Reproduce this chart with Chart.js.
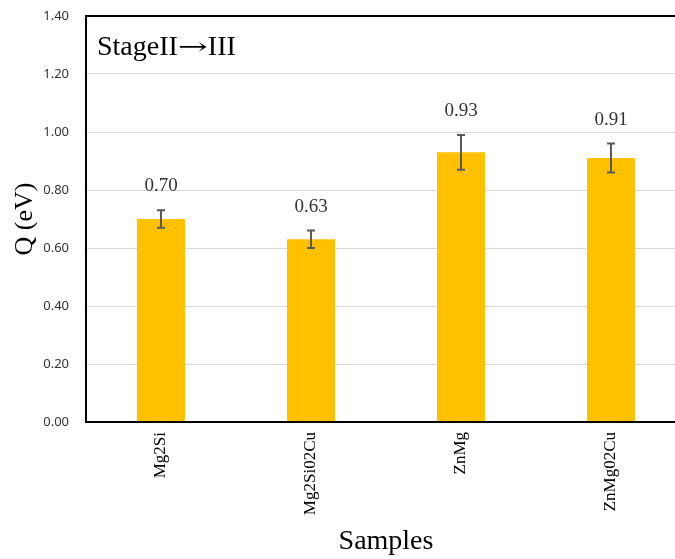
<!DOCTYPE html>
<html lang="en">
<head>
<meta charset="UTF-8">
<title>Q stage II to III</title>
<script src="https://cdn.jsdelivr.net/npm/chart.js"></script>
<style>
  html, body { margin: 0; padding: 0; background: #fff; overflow: hidden; }
  #wrap { width: 686px; height: 559px; }
</style>
</head>
<body>
<div id="wrap">
  <canvas id="myChart" width="686" height="559"></canvas>
</div>
<script>
// data
const categories = ['Mg2Si', 'Mg2Si02Cu', 'ZnMg', 'ZnMg02Cu'];
const qValues = [0.70, 0.63, 0.93, 0.91];
const qErrors = [0.03, 0.03, 0.06, 0.05];
const yMin = 0, yMax = 1.4, yStep = 0.2;
const stageParts = ['StageII', '\u2192', 'III'];

// error bars + value labels + box text
const extras = {
    id: 'extras',
    afterDatasetsDraw(chart) {
        const ctx = chart.ctx;
        const xs = chart.scales.x, ys = chart.scales.y;
        ctx.save();
        ctx.strokeStyle = '#595959';
        ctx.lineWidth = 2;
        for (let i = 0; i < qValues.length; i++) {
            const x = xs.getPixelForValue(i);
            const yt = ys.getPixelForValue(qValues[i] + qErrors[i]);
            const yb = ys.getPixelForValue(qValues[i] - qErrors[i]);
            ctx.beginPath();
            ctx.moveTo(x, yt); ctx.lineTo(x, yb);
            ctx.moveTo(x - 4, yt); ctx.lineTo(x + 4, yt);
            ctx.moveTo(x - 4, yb); ctx.lineTo(x + 4, yb);
            ctx.stroke();
            ctx.fillStyle = '#333';
            ctx.font = '19px "Liberation Serif"';
            ctx.textAlign = 'center';
            ctx.textBaseline = 'middle';
            ctx.fillText(qValues[i].toFixed(2), x, yt - 24);
        }
        // frame
        const a = chart.chartArea;
        ctx.strokeStyle = '#000';
        ctx.lineWidth = 2;
        ctx.strokeRect(a.left, a.top, a.right - a.left, a.bottom - a.top);
        // "StageII→III"; the arrow is stretched a bit to match the long one in the source
        ctx.fillStyle = '#000';
        ctx.textAlign = 'left';
        ctx.textBaseline = 'alphabetic';
        let tx = a.left + 11;
        const ty = a.top + 39;
        ctx.font = '28px "Liberation Serif"';
        ctx.fillText(stageParts[0], tx, ty);
        tx += ctx.measureText(stageParts[0]).width;
        ctx.font = '28px "DejaVu Serif"';
        const aw = ctx.measureText(stageParts[1]).width;
        ctx.save();
        ctx.translate(tx, ty - 1);
        ctx.scale(30 / aw, 0.8);
        ctx.fillText(stageParts[1], 0, 0);
        ctx.restore();
        tx += 30;
        ctx.font = '28px "Liberation Serif"';
        ctx.fillText(stageParts[2], tx, ty);
        ctx.restore();
    }
};

const ctx = document.getElementById('myChart').getContext('2d');
const myChart = new Chart(ctx, {
    type: 'bar',
    data: {
        labels: categories,
        datasets: [{
            data: qValues,
            backgroundColor: '#FFC000',
            borderWidth: 0,
            barPercentage: 0.32,
            categoryPercentage: 1
        }]
    },
    options: {
        responsive: false,
        animation: false,
        devicePixelRatio: 1,
        layout: { padding: { top: 16, left: 0, right: 0, bottom: 0 } },
        plugins: { legend: { display: false }, tooltip: { enabled: false } },
        scales: {
            x: {
                grid: { display: false, drawTicks: false },
                border: { color: '#000', width: 2 },
                ticks: {
                    minRotation: 90, maxRotation: 90, padding: 10,
                    color: '#000',
                    font: { family: 'Liberation Serif', size: 17 }
                },
                title: {
                    display: true, text: 'Samples', color: '#000',
                    font: { family: 'Liberation Serif', size: 28 },
                    padding: { top: 0, bottom: 1 }
                },
                afterFit(scale) { scale.height = 137; scale.paddingTop = 0; }
            },
            y: {
                min: yMin, max: yMax,
                grid: { color: '#d9d9d9', lineWidth: 1, drawTicks: false },
                border: { color: '#000', width: 2 },
                ticks: {
                    stepSize: yStep, padding: 17, color: '#333',
                    font: { family: 'Noto Sans', size: 13 },
                    callback: v => v.toFixed(2)
                },
                title: {
                    display: true, text: 'Q (eV)', color: '#000',
                    font: { family: 'Liberation Serif', size: 26 },
                    padding: { top: 10, bottom: 0 }
                },
                afterFit(scale) { scale.width = 86; scale.paddingTop = 0; scale.paddingBottom = 0; }
            }
        }
    },
    plugins: [extras]
});
</script>
</body>
</html>
